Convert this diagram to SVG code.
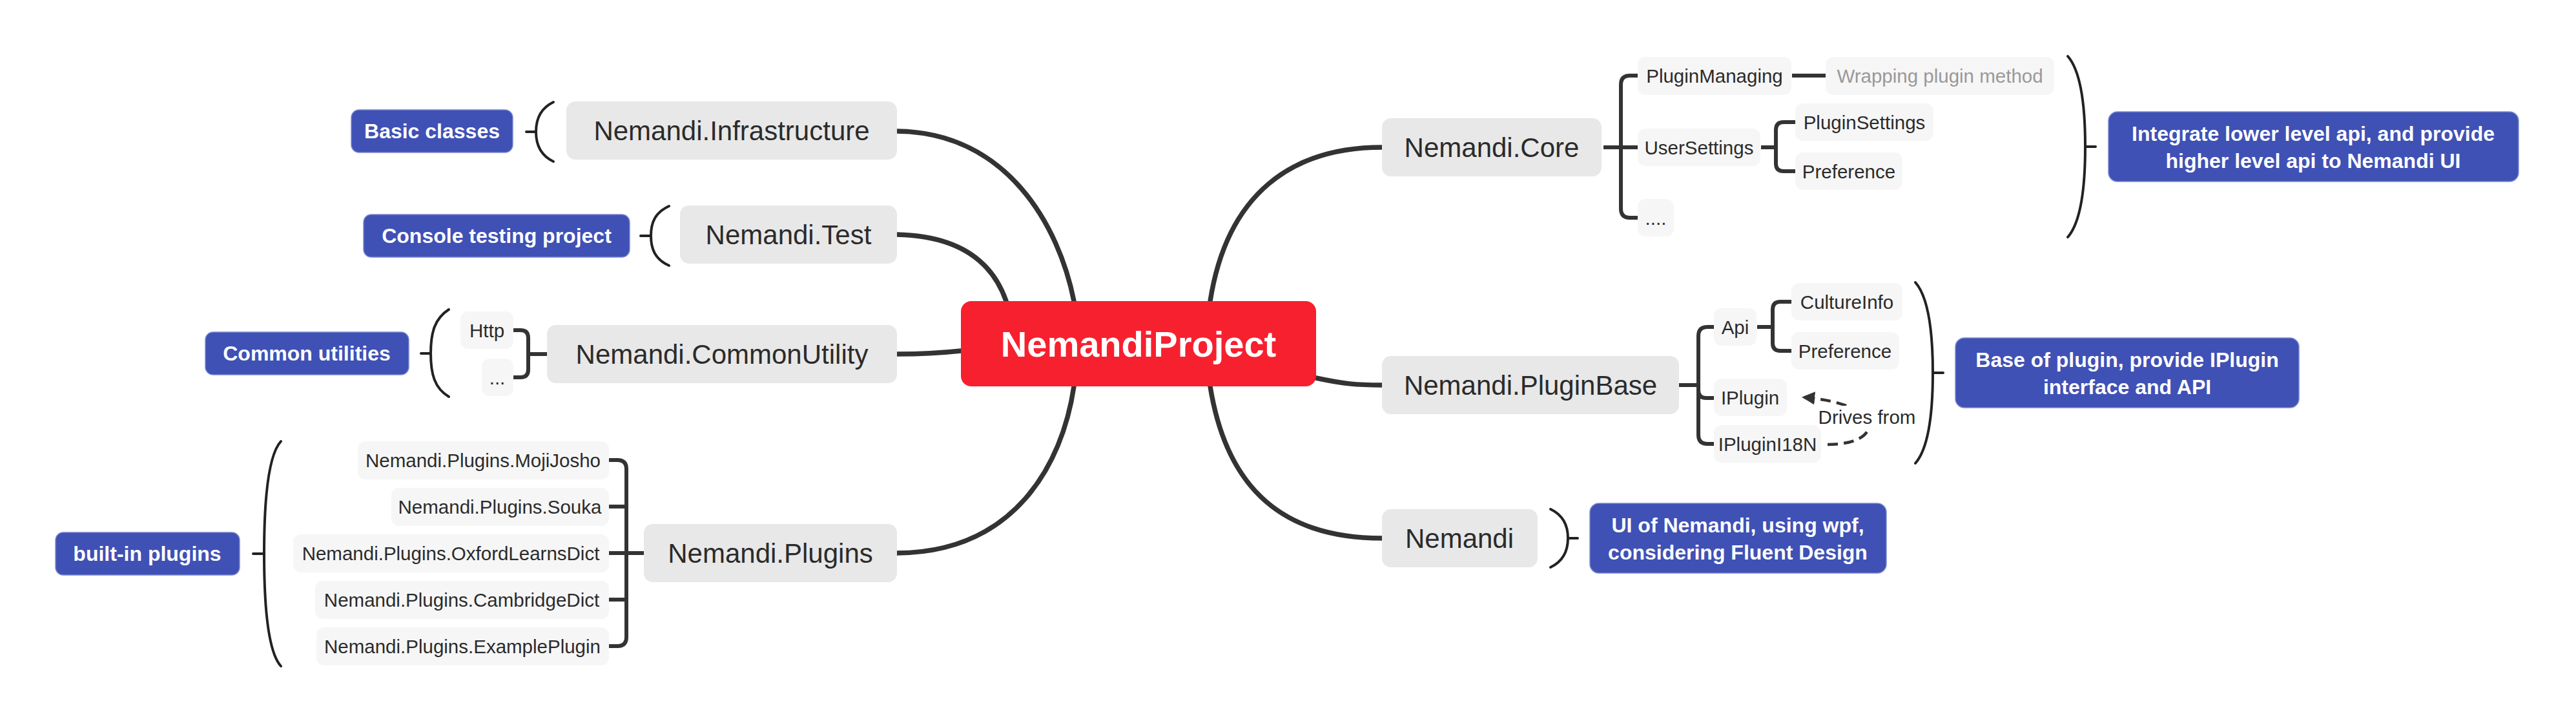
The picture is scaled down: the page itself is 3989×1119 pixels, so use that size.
<svg xmlns="http://www.w3.org/2000/svg" width="3989" height="1119" viewBox="0 0 3989 1119">
<style>
.bg{fill:#ffffff}
.l1{fill:#e8e8e8}
.l2{fill:#f6f6f6}
.note{fill:#3f51b5;stroke:#7c89d0;stroke-width:1.5}
.root{fill:#f7202f}
.t1{font-family:"Liberation Sans",Arial,sans-serif;font-size:42px;fill:#2b2b2b;text-anchor:middle;dominant-baseline:central}
.t2{font-family:"Liberation Sans",Arial,sans-serif;font-size:29.5px;fill:#2b2b2b;text-anchor:middle;dominant-baseline:central}
.tg{fill:#999999}
.tn{font-family:"Liberation Sans",Arial,sans-serif;font-size:32px;font-weight:bold;fill:#ffffff;text-anchor:middle;dominant-baseline:central}
.tr{font-family:"Liberation Sans",Arial,sans-serif;font-size:56px;font-weight:bold;fill:#ffffff;text-anchor:middle;dominant-baseline:central}
.conn{stroke:#333333;stroke-width:7.5;fill:none;stroke-linecap:round}
.sub{stroke:#333333;stroke-width:6;fill:none;stroke-linejoin:round}
.brk{stroke:#222222;stroke-width:4;fill:none;stroke-linecap:round}
.dash{stroke:#333333;stroke-width:4.5;fill:none;stroke-dasharray:16 9}
</style>
<defs>
<marker id="arrow" viewBox="0 0 10 10" refX="8" refY="5" markerWidth="4.5" markerHeight="4.5" orient="auto-start-reverse" markerUnits="strokeWidth">
<path d="M0,0 L10,5 L0,10 z" fill="#333333"/>
</marker>
</defs>
<rect class="bg" x="0" y="0" width="3989" height="1119"/>

<g id="connectors">
<!-- main branches -->
<path class="conn" d="M1389,203 C1560,205 1640,350 1663,466"/>
<path class="conn" d="M1389,363 C1480,365 1535,400 1558,466"/>
<path class="conn" d="M1389,548 C1430,548 1460,546 1488,543"/>
<path class="conn" d="M1389,856 C1570,855 1645,720 1663,598"/>
<path class="conn" d="M1874,466 C1900,300 2000,228 2140,228"/>
<path class="conn" d="M2038,585 C2080,594 2100,596 2140,596"/>
<path class="conn" d="M1874,598 C1900,760 1990,833 2140,833"/>
<!-- sub branches left -->
<path class="sub" d="M795,511 H806 Q818,511 818,523 V572 Q818,584 806,584 H795"/>
<path class="sub" d="M818,548 H847"/>
<path class="sub" d="M943,712 H956 Q970,712 970,726 V986 Q970,1000 956,1000 H943"/>
<path class="sub" d="M943,784 H970 M943,928 H970 M943,856 H997"/>
<!-- sub branches right: Core -->
<path class="sub" d="M2483,228 H2536"/>
<path class="sub" d="M2536,117 H2524 Q2510,117 2510,131 V323 Q2510,337 2524,337 H2536"/>
<path class="sub" d="M2775,117 H2827"/>
<path class="sub" d="M2727,228 H2750"/>
<path class="sub" d="M2780,189 H2762 Q2750,189 2750,201 V253 Q2750,265 2762,265 H2780"/>
<!-- sub branches right: PluginBase -->
<path class="sub" d="M2600,596 H2630"/>
<path class="sub" d="M2654,506 H2644 Q2630,506 2630,520 V673 Q2630,687 2644,687 H2654"/>
<path class="sub" d="M2630,604 Q2630,616 2642,616 H2654"/>
<path class="sub" d="M2721,506 H2745"/>
<path class="sub" d="M2774,467 H2757 Q2745,467 2745,479 V531 Q2745,543 2757,543 H2774"/>
<!-- relationship -->
<path class="dash" d="M2830,688 C2920,688 2920,625 2794,615" marker-end="url(#arrow)"/>
<!-- summary brackets -->
<path class="brk" d="M857,158 C836,168 830,185 830,204 C830,223 836,240 857,250 M815,204 H830"/>
<path class="brk" d="M1036,319 C1014,329 1008,345 1008,365 C1008,385 1014,401 1036,411 M992,365 H1008"/>
<path class="brk" d="M695,479 C673,493 667,515 667,547 C667,579 673,601 695,614 M652,547 H667"/>
<path class="brk" d="M435,683 C414,706 409,780 409,857 C409,934 414,1008 435,1031 M392,857 H409"/>
<path class="brk" d="M3202,87 C3223,111 3229,170 3229,227 C3229,284 3223,343 3202,367 M3229,227 H3245"/>
<path class="brk" d="M2966,437 C2987,461 2993,520 2993,577 C2993,634 2987,693 2966,717 M2993,577 H3009"/>
<path class="brk" d="M2401,788 C2422,798 2428,815 2428,833 C2428,851 2422,868 2401,878 M2428,833 H2443"/>
</g>

<g id="root">
<rect class="root" x="1488" y="466" width="550" height="132" rx="16"/>
<text class="tr" x="1763" y="532">NemandiProject</text>
</g>

<g id="n-infrastructure">
<rect class="l1" x="877" y="157" width="512" height="90" rx="14"/>
<text class="t1" x="1133" y="202">Nemandi.Infrastructure</text>
</g>
<g id="note-basic">
<rect class="note" x="544" y="170" width="250" height="66" rx="12"/>
<text class="tn" x="669" y="203">Basic classes</text>
</g>

<g id="n-test">
<rect class="l1" x="1053" y="318" width="336" height="90" rx="14"/>
<text class="t1" x="1221" y="363">Nemandi.Test</text>
</g>
<g id="note-console">
<rect class="note" x="563" y="332" width="412" height="66" rx="12"/>
<text class="tn" x="769" y="365">Console testing project</text>
</g>

<g id="n-commonutility">
<rect class="l1" x="847" y="503" width="542" height="90" rx="14"/>
<text class="t1" x="1118" y="548">Nemandi.CommonUtility</text>
</g>
<g id="n-http">
<rect class="l2" x="713" y="482" width="82" height="58" rx="12"/>
<text class="t2" x="754" y="511">Http</text>
</g>
<g id="n-cu-more">
<rect class="l2" x="746" y="555" width="49" height="58" rx="12"/>
<text class="t2" x="770" y="584">...</text>
</g>
<g id="note-common">
<rect class="note" x="318" y="514" width="315" height="66" rx="12"/>
<text class="tn" x="475" y="547">Common utilities</text>
</g>

<g id="n-plugins">
<rect class="l1" x="997" y="811" width="392" height="90" rx="14"/>
<text class="t1" x="1193" y="856">Nemandi.Plugins</text>
</g>
<g id="n-mojijosho">
<rect class="l2" x="554" y="683" width="389" height="59" rx="12"/>
<text class="t2" x="748" y="712">Nemandi.Plugins.MojiJosho</text>
</g>
<g id="n-souka">
<rect class="l2" x="606" y="755" width="337" height="59" rx="12"/>
<text class="t2" x="774" y="784">Nemandi.Plugins.Souka</text>
</g>
<g id="n-oxford">
<rect class="l2" x="454" y="827" width="489" height="59" rx="12"/>
<text class="t2" x="698" y="856">Nemandi.Plugins.OxfordLearnsDict</text>
</g>
<g id="n-cambridge">
<rect class="l2" x="488" y="899" width="455" height="59" rx="12"/>
<text class="t2" x="715" y="928">Nemandi.Plugins.CambridgeDict</text>
</g>
<g id="n-example">
<rect class="l2" x="490" y="971" width="453" height="59" rx="12"/>
<text class="t2" x="716" y="1000">Nemandi.Plugins.ExamplePlugin</text>
</g>
<g id="note-builtin">
<rect class="note" x="86" y="824" width="285" height="66" rx="12"/>
<text class="tn" x="228" y="857">built-in plugins</text>
</g>

<g id="n-core">
<rect class="l1" x="2140" y="183" width="340" height="90" rx="14"/>
<text class="t1" x="2310" y="228">Nemandi.Core</text>
</g>
<g id="n-pluginmanaging">
<rect class="l2" x="2536" y="88" width="238" height="59" rx="12"/>
<text class="t2" x="2655" y="117">PluginManaging</text>
</g>
<g id="n-wrapping">
<rect class="l2" x="2827" y="88" width="354" height="59" rx="12"/>
<text class="t2 tg" x="3004" y="117">Wrapping plugin method</text>
</g>
<g id="n-usersettings">
<rect class="l2" x="2536" y="199" width="190" height="58" rx="12"/>
<text class="t2" x="2631" y="228">UserSettings</text>
</g>
<g id="n-pluginsettings">
<rect class="l2" x="2780" y="160" width="214" height="58" rx="12"/>
<text class="t2" x="2887" y="189">PluginSettings</text>
</g>
<g id="n-preference-core">
<rect class="l2" x="2780" y="236" width="166" height="58" rx="12"/>
<text class="t2" x="2863" y="265">Preference</text>
</g>
<g id="n-core-more">
<rect class="l2" x="2536" y="308" width="56" height="58" rx="12"/>
<text class="t2" x="2564" y="337">....</text>
</g>
<g id="note-core">
<rect class="note" x="3265" y="173" width="635" height="108" rx="14"/>
<text class="tn" x="3582" y="207">Integrate lower level api, and provide</text>
<text class="tn" x="3582" y="249">higher level api to Nemandi UI</text>
</g>

<g id="n-pluginbase">
<rect class="l1" x="2140" y="551" width="460" height="90" rx="14"/>
<text class="t1" x="2370" y="596">Nemandi.PluginBase</text>
</g>
<g id="n-api">
<rect class="l2" x="2654" y="477" width="66" height="58" rx="12"/>
<text class="t2" x="2687" y="506">Api</text>
</g>
<g id="n-cultureinfo">
<rect class="l2" x="2774" y="438" width="172" height="58" rx="12"/>
<text class="t2" x="2860" y="467">CultureInfo</text>
</g>
<g id="n-preference-api">
<rect class="l2" x="2774" y="514" width="167" height="58" rx="12"/>
<text class="t2" x="2857" y="543">Preference</text>
</g>
<g id="n-iplugin">
<rect class="l2" x="2654" y="586" width="113" height="58" rx="12"/>
<text class="t2" x="2710" y="615">IPlugin</text>
</g>
<g id="n-ipluginI18n">
<rect class="l2" x="2654" y="658" width="166" height="58" rx="12"/>
<text class="t2" x="2737" y="687">IPluginI18N</text>
</g>
<g id="label-drives">
<rect x="2814" y="628" width="154" height="34" fill="#ffffff"/>
<text class="t2" x="2891" y="645">Drives from</text>
</g>
<g id="note-pluginbase">
<rect class="note" x="3028" y="523" width="532" height="108" rx="14"/>
<text class="tn" x="3294" y="557">Base of plugin, provide IPlugin</text>
<text class="tn" x="3294" y="599">interface and API</text>
</g>

<g id="n-nemandi">
<rect class="l1" x="2140" y="788" width="241" height="90" rx="14"/>
<text class="t1" x="2260" y="833">Nemandi</text>
</g>
<g id="note-nemandi">
<rect class="note" x="2462" y="779" width="459" height="108" rx="14"/>
<text class="tn" x="2691" y="813">UI of Nemandi, using wpf,</text>
<text class="tn" x="2691" y="855">considering Fluent Design</text>
</g>
</svg>
